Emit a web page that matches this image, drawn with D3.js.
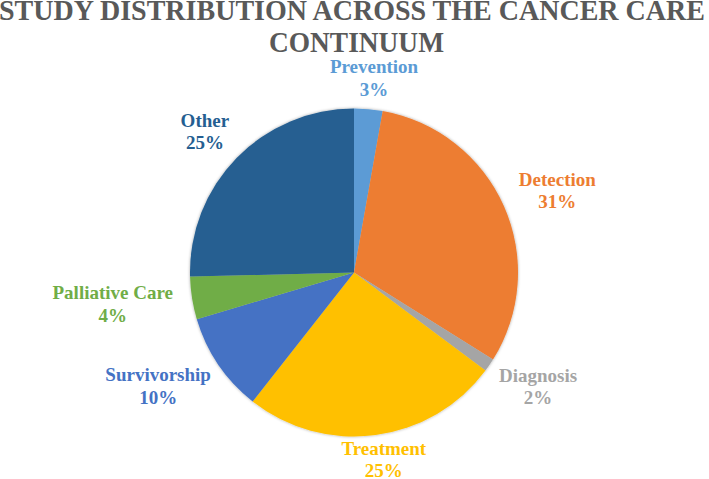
<!DOCTYPE html>
<html>
<head>
<meta charset="utf-8">
<script src="https://cdn.jsdelivr.net/npm/d3@7"></script>
<style>
  body { margin: 0; background: #fff; }
  text { font-family: 'Liberation Serif', 'Times New Roman', 'DejaVu Serif', serif; }
</style>
</head>
<body>
<script>
// data
const categories = ["Prevention", "Detection", "Diagnosis", "Treatment", "Survivorship", "Palliative Care", "Other"];
const shares = [2.8, 31.1, 1.3, 25.4, 9.8, 4.2, 25.4];
const pctLabels = ["3%", "31%", "2%", "25%", "10%", "4%", "25%"];
const colors = ["#5B9BD5", "#ED7D31", "#A5A5A5", "#FFC000", "#4472C4", "#70AD47", "#255E91"];
const titleLines = ["STUDY DISTRIBUTION ACROSS THE CANCER CARE", "CONTINUUM"];
// data

const width = 709, height = 479;
const cx = 354, cy = 272.5, radius = 164;
const serif = "Liberation Serif, Times New Roman, DejaVu Serif, serif";

const svg = d3.select("body").append("svg")
  .attr("width", width)
  .attr("height", height);

// soft shadow round the pie
const defs = svg.append("defs");
defs.append("filter")
  .attr("id", "shadow")
  .attr("x", "-10%").attr("y", "-10%")
  .attr("width", "120%").attr("height", "120%")
  .append("feDropShadow")
  .attr("dx", 0).attr("dy", 0)
  .attr("stdDeviation", 1.6)
  .attr("flood-color", "#000")
  .attr("flood-opacity", 0.35);

// title
svg.append("text")
  .attr("x", -1).attr("y", 19.5)
  .attr("textLength", 706)
  .attr("lengthAdjust", "spacingAndGlyphs")
  .attr("font-family", serif)
  .attr("font-size", 30).attr("font-weight", "bold")
  .attr("fill", "#595959")
  .text(titleLines[0]);
svg.append("text")
  .attr("x", 269).attr("y", 52)
  .attr("textLength", 175)
  .attr("lengthAdjust", "spacingAndGlyphs")
  .attr("font-family", serif)
  .attr("font-size", 30).attr("font-weight", "bold")
  .attr("fill", "#595959")
  .text(titleLines[1]);
const titleBottom = 52;

const color = d3.scaleOrdinal().domain(categories).range(colors);

const pie = d3.pie()
  .sort(null)
  .value((d, i) => shares[i]);

const arcs = pie(categories);

const arc = d3.arc().innerRadius(0).outerRadius(radius);

const g = svg.append("g")
  .attr("transform", `translate(${cx},${cy})`);

g.append("g")
  .attr("filter", "url(#shadow)")
  .selectAll("path")
  .data(arcs)
  .enter().append("path")
  .attr("d", arc)
  .attr("fill", d => color(d.data));

// labels, outside end
const gap = 20;
const labelArc = d3.arc().innerRadius(radius + gap).outerRadius(radius + gap);
const fontSize = 19, lineGap = 22.5, capH = 13;
const boxH = capH + lineGap;

arcs.forEach((d, i) => {
  const t = svg.append("text")
    .attr("font-family", serif)
    .attr("font-size", fontSize)
    .attr("font-weight", "bold")
    .attr("fill", color(d.data))
    .attr("text-anchor", "middle");
  const l1 = t.append("tspan").text(d.data);
  const l2 = t.append("tspan").text(pctLabels[i]);
  const w = Math.max(l1.node().getComputedTextLength(), l2.node().getComputedTextLength());

  const mid = (d.startAngle + d.endAngle) / 2;
  const [ax, ay] = labelArc.centroid({startAngle: mid, endAngle: mid});
  let x = cx + ax + Math.sin(mid) * w / 2;
  let y = cy + ay - Math.cos(mid) * boxH / 2;
  // keep inside chart area, clear of the title
  y = Math.min(y, height - 2 - boxH / 2);
  y = Math.max(y, titleBottom + 8 + boxH / 2);
  x = Math.max(w / 2 + 2, Math.min(width - w / 2 - 2, x));

  l1.attr("x", x).attr("y", y - boxH / 2 + capH);
  l2.attr("x", x).attr("y", y - boxH / 2 + capH + lineGap);
});
</script>
</body>
</html>
